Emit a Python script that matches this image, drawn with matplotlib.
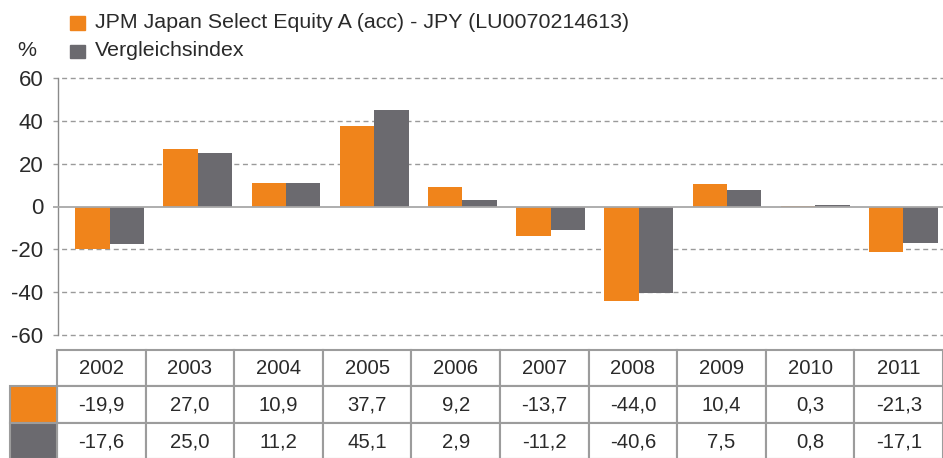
import matplotlib
matplotlib.use("Agg")
import matplotlib.pyplot as plt
from matplotlib.patches import Rectangle

plt.rcParams['font.family'] = ['Liberation Sans', 'DejaVu Sans']
plt.rcParams['lines.scale_dashes'] = False

years = ["2002", "2003", "2004", "2005", "2006", "2007", "2008", "2009", "2010", "2011"]
fund = [-19.9, 27.0, 10.9, 37.7, 9.2, -13.7, -44.0, 10.4, 0.3, -21.3]
index = [-17.6, 25.0, 11.2, 45.1, 2.9, -11.2, -40.6, 7.5, 0.8, -17.1]
fund_label = "JPM Japan Select Equity A (acc) - JPY (LU0070214613)"
index_label = "Vergleichsindex"
yticks = [-60, -40, -20, 0, 20, 40, 60]

ORANGE = "#F0841B"
GREY = "#6B6A6F"
TXT = "#2A2A2A"
GRID = "#9A9A9A"

W, H = 943, 458
fig = plt.figure(figsize=(W / 100, H / 100), dpi=100)

def fx(px):
    return px / W

def fy(py):
    return 1 - py / H

# main axes
ax_l, ax_r, ax_t, ax_b = 58, 943, 78, 335
ax = fig.add_axes([fx(ax_l), fy(ax_b), fx(ax_r - ax_l), (ax_b - ax_t) / H])
n = len(years)
x = list(range(n))
bw = 0.39
ax.bar([i - bw / 2 for i in x], fund, width=bw, color=ORANGE, zorder=2)
ax.bar([i + bw / 2 for i in x], index, width=bw, color=GREY, zorder=2)
ax.set_xlim(-0.584, 9.45)
ax.set_ylim(-60, 60)
for s in ['top', 'right', 'bottom']:
    ax.spines[s].set_visible(False)
ax.spines['left'].set_color("#8A8A8A")
ax.spines['left'].set_linewidth(1.0)
ax.set_xticks([])
ax.set_yticks(yticks)
ax.set_yticklabels([str(v) for v in yticks], fontsize=16, color=TXT)
ax.tick_params(axis='y', length=0, pad=10.5)
trans = ax.get_yaxis_transform()
for v in yticks:
    if v == 0:
        ax.hlines(v, -0.006, 1, transform=trans, color="#A8A8A8", linewidth=1.3,
                  zorder=3, clip_on=False)
    else:
        ax.hlines(v, -0.006, 1, transform=trans, color=GRID, linewidth=1.0,
                  linestyles=(0, (3.6, 2.6)), zorder=1, clip_on=False)

# legend
fig.patches.append(Rectangle((fx(70), fy(30)), fx(15), 14 / H, color=ORANGE,
                             transform=fig.transFigure))
fig.patches.append(Rectangle((fx(70), fy(58)), fx(15), 13 / H, color=GREY,
                             transform=fig.transFigure))
fig.text(fx(95), fy(23), fund_label, fontsize=15.4, color=TXT, va='center', ha='left')
fig.text(fx(95), fy(51), index_label, fontsize=15.4, color=TXT, va='center', ha='left')
fig.text(fx(17), fy(51), "%", fontsize=15.4, color=TXT, va='center', ha='left')

# table
t_l, t_r, t_t = 10, 943, 350
row_h = 36.5
tab = fig.add_axes([fx(t_l), fy(t_t + 3 * row_h), fx(t_r - t_l), 3 * row_h / H])
tab.set_axis_off()
first_w = 47.0
col_w = (t_r - t_l - first_w) / n
tab.set_xlim(0, t_r - t_l)
tab.set_ylim(3, 0)
BORDER = "#9C9C9C"
rows = [years, [f"{v:.1f}".replace('.', ',') for v in fund],
        [f"{v:.1f}".replace('.', ',') for v in index]]
for r, vals in enumerate(rows):
    for c, val in enumerate(vals):
        x0 = first_w + c * col_w
        tab.add_patch(Rectangle((x0, r), col_w, 1, facecolor='white',
                                edgecolor=BORDER, linewidth=1.5, clip_on=False))
        tab.text(x0 + col_w / 2, r + 0.52, val, fontsize=14.6, color=TXT,
                 ha='center', va='center')
tab.add_patch(Rectangle((0, 1), first_w, 1, facecolor=ORANGE, edgecolor=BORDER,
                        linewidth=1.5, clip_on=False))
tab.add_patch(Rectangle((0, 2), first_w, 1, facecolor=GREY, edgecolor=BORDER,
                        linewidth=1.5, clip_on=False))

fig.savefig("out.png", dpi=100, facecolor='white')
